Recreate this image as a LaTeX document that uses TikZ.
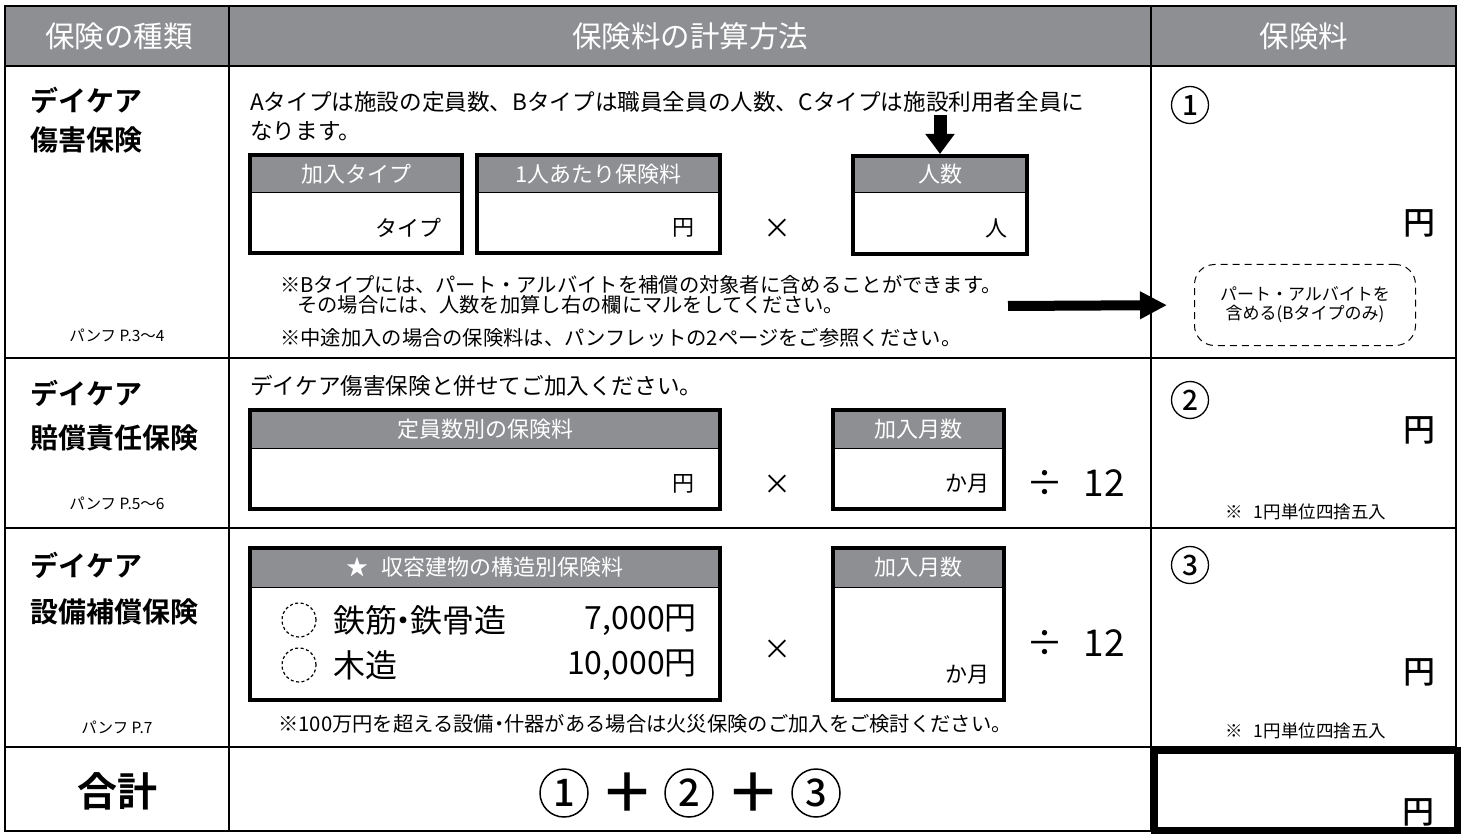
\documentclass[tikz,border=0pt]{standalone}
\usepackage{fontspec}
\setmainfont{Noto Sans CJK JP}
\newfontfamily\jpbold{Noto Sans CJK JP Bold}
\newfontfamily\jpmed{Noto Sans CJK JP Medium}
\usetikzlibrary{arrows.meta}
\definecolor{hdr}{RGB}{142,143,147}
\tikzset{
  hdrtext/.style={text=white,font=\fontsize{29.5}{32}\selectfont,inner sep=0pt},
  boxhdr/.style={text=white,font=\fontsize{22}{26}\selectfont,inner sep=0pt},
  body/.style={font=\fontsize{22.6}{26}\selectfont,anchor=west,inner sep=0pt},
  note/.style={font=\fontsize{20.3}{23}\selectfont,anchor=west,inner sep=0pt},
  ttl/.style={font=\fontsize{28}{32}\jpbold,anchor=west,inner sep=0pt},
  pamph/.style={font=\fontsize{15.5}{18}\selectfont,inner sep=0pt},
  unit/.style={font=\fontsize{22}{26}\selectfont,anchor=east,inner sep=0pt},
  bigunit/.style={font=\fontsize{32}{34}\jpmed,anchor=east,inner sep=0pt},
  op/.style={font=\fontsize{28}{32}\selectfont,inner sep=0pt},
  divtxt/.style={font=\fontsize{37}{40}\selectfont,inner sep=0pt},
  circnum/.style={circle,draw,line width=1.3pt,minimum size=37pt,inner sep=0pt,
                  font=\fontsize{28}{30}\jpmed},
  sumnum/.style={circle,draw,line width=1.5pt,minimum size=48pt,inner sep=0pt,
                  font=\fontsize{38}{40}\jpmed},
  plus/.style={font=\fontsize{54}{56}\jpbold,inner sep=0pt},
  rnote/.style={font=\fontsize{17.5}{20}\selectfont,inner sep=0pt},
  large/.style={font=\fontsize{32}{36}\selectfont,inner sep=0pt},
  grid/.style={line width=2pt},
  dotcirc/.style={circle,draw=black,dash pattern=on 3pt off 2.5pt,line width=1.2pt,minimum size=34pt,inner sep=0pt},
}
\newcommand\formbox[7]{%
  \fill[hdr] (#2,#3) rectangle (#4,#5);
  \draw[line width=1pt] (#2,#5) -- (#4,#5);
  \node[draw,line width=4pt,inner sep=0pt,outer sep=0pt,anchor=north west,
        minimum width={(#4-#2)*1pt},minimum height={(#6-#3)*1pt}] (#1) at (#2,#3) {};
  \node[boxhdr] (#1h) at ({(#2+#4)/2},{(#3+#5)/2}) {#7};
}
\begin{document}
\begin{tikzpicture}[x=1pt,y=-1pt]
\useasboundingbox (0,0) rectangle (1461,834);
\fill[white] (0,0) rectangle (1461,834);
% header band
\fill[hdr] (5,6) rectangle (1456,66);
% grid
\draw[grid] (5,6) rectangle (1456,831);
\draw[grid] (5,66) -- (1456,66);
\draw[grid] (5,358) -- (1456,358);
\draw[grid] (5,528) -- (1456,528);
\draw[grid] (5,747) -- (1456,747);
\draw[grid] (229,6) -- (229,831);
\draw[grid] (1151,6) -- (1151,831);
% header texts
\node[hdrtext] (h1) at (119,36) {保険の種類};
\node[hdrtext] (h2) at (690,36) {保険料の計算方法};
\node[hdrtext] (h3) at (1304,36) {保険料};

% ---------- row 1
\node[ttl] (t1a) at (30,100) {デイケア};
\node[ttl] (t1b) at (30,140) {傷害保険};
\node[pamph] (p1) at (117,335) {パンフ P.3〜4};
\node[body] (l1) at (250,102) {Aタイプは施設の定員数、Bタイプは職員全員の人数、Cタイプは施設利用者全員に};
\node[body] (l2) at (250,131) {なります。};
\formbox{b1}{250}{155}{462}{193}{253}{加入タイプ}
\formbox{b2}{477}{155}{720}{193}{253}{1人あたり保険料}
\formbox{b3}{853}{156}{1027}{193}{254}{人数}
\node[unit] (u1) at (442,228) {タイプ};
\node[unit] (u2) at (695,228) {円};
\node[op] (x1) at (777,229) {×};
\node[unit] (u3) at (1008,228) {人};
\coordinate (adn) at (940,115);
\draw[line width=13pt,-{Triangle[length=20pt,width=28pt]}] (adn) -- ([yshift=2pt]b3.north -| adn);
\node[note] (n1) at (280,285) {※Bタイプには、パート・アルバイトを補償の対象者に含めることができます。};
\node[note] (n2) at (297,305) {その場合には、人数を加算し右の欄にマルをしてください。};
\node[note] (n3) at (280,338) {※中途加入の場合の保険料は、パンフレットの2ページをご参照ください。};
\node[draw,dash pattern=on 7pt off 5pt,line width=1pt,rounded corners=20pt,
      minimum width=221pt,minimum height=81pt,align=center,
      font=\fontsize{17}{19}\selectfont] (dash) at (1305,305) {パート・アルバイトを\\含める(Bタイプのみ)};
\coordinate (arst) at (1008,306);
\draw[line width=10pt,-{Triangle[length=27pt,width=26pt]},shorten >=27pt] (arst) -- (dash.west);
\node[circnum] (c1) at (1190,105) {1};
\node[bigunit] (y1) at (1436,223) {円};

% ---------- row 2
\node[ttl] (t2a) at (30,393) {デイケア};
\node[ttl] (t2b) at (30,438) {賠償責任保険};
\node[pamph] (p2) at (117,503) {パンフ P.5〜6};
\node[body] (l3) at (250,386) {デイケア傷害保険と併せてご加入ください。};
\formbox{b4}{250}{410}{720}{448}{509}{定員数別の保険料}
\formbox{b5}{833}{410}{1004}{448}{509}{加入月数}
\node[unit] (u4) at (695,484) {円};
\node[op] (x2) at (777,485) {×};
\node[unit] (u5) at (990,484) {か月};
\node[divtxt] (d1) at (1045,483) {÷};
\node[divtxt] (d2) at (1104,483) {12};
\node[circnum] (c2) at (1190,400) {2};
\node[bigunit] (y2) at (1436,430) {円};
\node[rnote] (r2) at (1306,512) {※\hspace{0.6em}1円単位四捨五入};

% ---------- row 3
\node[ttl] (t3a) at (30,565) {デイケア};
\node[ttl] (t3b) at (30,612) {設備補償保険};
\node[pamph] (p3) at (117,727) {パンフ P.7};
\formbox{b6}{250}{548}{720}{587}{700}{★\hspace{0.6em}収容建物の構造別保険料}
\formbox{b7}{833}{548}{1004}{587}{700}{加入月数}
\node[dotcirc] (o1) at (299,620) {};
\node[dotcirc] (o2) at (299,665) {};
\node[large,anchor=west] (s1) at (333,620) {鉄筋\hspace{-0.3em}・\hspace{-0.3em}鉄骨造};
\node[large,anchor=east] (v1) at (697,620) {7,000円};
\node[large,anchor=west] (s2) at (333,665) {木造};
\node[large,anchor=east] (v2) at (697,665) {10,000円};
\node[op] (x3) at (777,650) {×};
\node[unit] (u6) at (990,675) {か月};
\node[divtxt] (d3) at (1045,643) {÷};
\node[divtxt] (d4) at (1104,643) {12};
\node[note] (n4) at (278,724) {※100万円を超える設備\hspace{-0.25em}・\hspace{-0.25em}什器がある場合は火災保険のご加入をご検討ください。};
\node[circnum] (c3) at (1190,565) {3};
\node[bigunit] (y3) at (1436,672) {円};
\node[rnote] (r3) at (1306,731) {※\hspace{0.6em}1円単位四捨五入};

% ---------- total row
\node[font=\fontsize{40}{44}\jpbold,inner sep=0pt] (sum) at (117,791) {合計};
\node[sumnum] (s1n) at (564,793) {1};
\node[plus] (s2n) at (627,793) {＋};
\node[sumnum] (s3n) at (689,793) {2};
\node[plus] (s4n) at (753,793) {＋};
\node[sumnum] (s5n) at (816,793) {3};
\node[draw,line width=7pt,inner sep=0pt,outer sep=0pt,anchor=north west,
      minimum width=303pt,minimum height=80pt] (total) at (1154,750) {};
\node[bigunit] (y4) at (1435,812) {円};
\end{tikzpicture}
\end{document}
